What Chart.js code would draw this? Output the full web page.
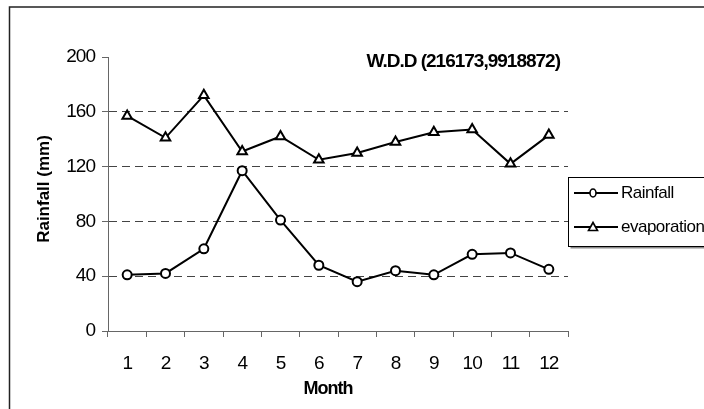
<!DOCTYPE html>
<html>
<head>
<meta charset="utf-8">
<title>W.D.D (216173,9918872)</title>
<script src="https://cdn.jsdelivr.net/npm/chart.js@4/dist/chart.umd.min.js"></script>
<style>
  html, body { margin: 0; padding: 0; background: #fff; }
  #wrap { width: 704px; height: 409px; position: relative; }
</style>
</head>
<body>
<div id="wrap"><canvas id="c" width="704" height="409"></canvas></div>
<script>
// Monthly rainfall and evaporation (mm)
const months = ['1', '2', '3', '4', '5', '6', '7', '8', '9', '10', '11', '12'];
const rainfall = [41, 42, 60, 117, 81, 48, 36, 44, 41, 56, 57, 45];
const evaporation = [157, 141, 172, 131, 142, 125, 130, 138, 145, 147, 122, 143];
const yTicks = [0, 40, 80, 120, 160, 200];
const stationTitle = 'W.D.D (216173,9918872)';
const xTitle = 'Month';
const yTitle = 'Rainfall (mm)';

const FONT = "'Liberation Sans', Arial, sans-serif";

// Tight letter spacing for tick labels (condensed look)
const tightText = {
  id: 'tightText',
  beforeDraw(chart) { chart.ctx.letterSpacing = '-1px'; }
};

// Outer frame, axis titles, station label and the boxed legend at the right
const decorations = {
  id: 'decorations',
  afterDraw(chart) {
    const ctx = chart.ctx;
    const area = chart.chartArea;
    ctx.save();

    // frame (open on the right and bottom edges of the page)
    ctx.letterSpacing = '0px';
    ctx.strokeStyle = '#222';
    ctx.lineWidth = 1.5;
    ctx.beginPath();
    ctx.moveTo(9.5, 420);
    ctx.lineTo(9.5, 7);
    ctx.lineTo(710, 7);
    ctx.stroke();

    // y axis title
    ctx.fillStyle = '#000';
    ctx.save();
    ctx.translate(44, 189);
    ctx.rotate(-Math.PI / 2);
    ctx.font = 'bold 17px ' + FONT;
    ctx.textAlign = 'center';
    ctx.textBaseline = 'middle';
    ctx.fillText(yTitle, 0, 0);
    ctx.restore();

    // x axis title
    ctx.letterSpacing = '-1px';
    ctx.font = 'bold 18px ' + FONT;
    ctx.textAlign = 'center';
    ctx.textBaseline = 'middle';
    ctx.fillText(xTitle, 328, 389);

    // station label
    ctx.font = 'bold 19px ' + FONT;
    ctx.textAlign = 'right';
    ctx.fillText(stationTitle, area.right - 8, 62);

    // legend box with a soft shadow
    const bx = 568.5, by = 177.5, bw = 160, bh = 69;
    ctx.fillStyle = '#8a8a8a';
    ctx.fillRect(bx + 2, by + bh, bw, 2);
    ctx.fillStyle = '#fff';
    ctx.fillRect(bx, by, bw, bh);
    ctx.strokeStyle = '#000';
    ctx.lineWidth = 1;
    ctx.strokeRect(bx, by, bw, bh);

    const rows = [193, 227];
    ctx.letterSpacing = '-0.5px';
    chart.data.datasets.forEach((ds, i) => {
      const y = rows[i];
      ctx.strokeStyle = '#000';
      ctx.lineWidth = 2;
      ctx.beginPath();
      ctx.moveTo(574, y);
      ctx.lineTo(618, y);
      ctx.stroke();
      ctx.lineWidth = 1.6;
      ctx.fillStyle = '#fff';
      if (ds.pointStyle === 'triangle') {
        ctx.beginPath();
        ctx.moveTo(593, y - 4.5);
        ctx.lineTo(597.5, y + 3.5);
        ctx.lineTo(588.5, y + 3.5);
        ctx.closePath();
        ctx.fill();
        ctx.stroke();
      } else {
        ctx.beginPath();
        ctx.ellipse(593, y, 3, 4, 0, 0, Math.PI * 2);
        ctx.fill();
        ctx.stroke();
      }
      ctx.fillStyle = '#000';
      ctx.font = '17px ' + FONT;
      ctx.textAlign = 'left';
      ctx.textBaseline = 'middle';
      ctx.fillText(ds.label, 621, y);
    });
    ctx.restore();
  }
};

new Chart(document.getElementById('c'), {
  type: 'line',
  data: {
    labels: months,
    datasets: [
      {
        label: 'Rainfall',
        data: rainfall,
        borderColor: '#000',
        borderWidth: 2,
        pointStyle: 'circle',
        pointRadius: 4.5,
        pointBorderWidth: 2,
        pointBorderColor: '#000',
        pointBackgroundColor: '#fff',
        tension: 0
      },
      {
        label: 'evaporation',
        data: evaporation,
        borderColor: '#000',
        borderWidth: 2,
        pointStyle: 'triangle',
        pointRadius: 5.5,
        pointBorderWidth: 2,
        pointBorderColor: '#000',
        pointBackgroundColor: '#fff',
        tension: 0
      }
    ]
  },
  options: {
    responsive: false,
    animation: false,
    devicePixelRatio: 1,
    layout: { padding: { left: 0, top: 57, right: 136, bottom: 0 } },
    plugins: {
      legend: { display: false },
      title: { display: false },
      tooltip: { enabled: false }
    },
    scales: {
      x: {
        type: 'category',
        offset: true,
        afterFit(scale) { scale.height = 78; },
        border: { color: '#666', width: 1 },
        grid: {
          offset: true,
          drawOnChartArea: false,
          drawTicks: true,
          tickLength: 6,
          tickColor: '#666'
        },
        ticks: {
          color: '#000',
          padding: 15,
          font: { family: FONT, size: 19 }
        }
      },
      y: {
        min: 0,
        max: 200,
        afterFit(scale) { scale.width = 108; },
        afterBuildTicks(scale) { scale.ticks = yTicks.map(v => ({ value: v })); },
        border: { color: '#666', width: 1, dash: [8, 5] },
        grid: {
          drawTicks: true,
          tickLength: 6,
          tickColor: '#666',
          color: (c) => (c.tick && c.tick.value > 0 && c.tick.value < 200) ? '#444' : 'rgba(0,0,0,0)',
          lineWidth: 1
        },
        ticks: {
          color: '#000',
          padding: 7,
          font: { family: FONT, size: 19 }
        }
      }
    }
  },
  plugins: [tightText, decorations]
});
</script>
</body>
</html>
